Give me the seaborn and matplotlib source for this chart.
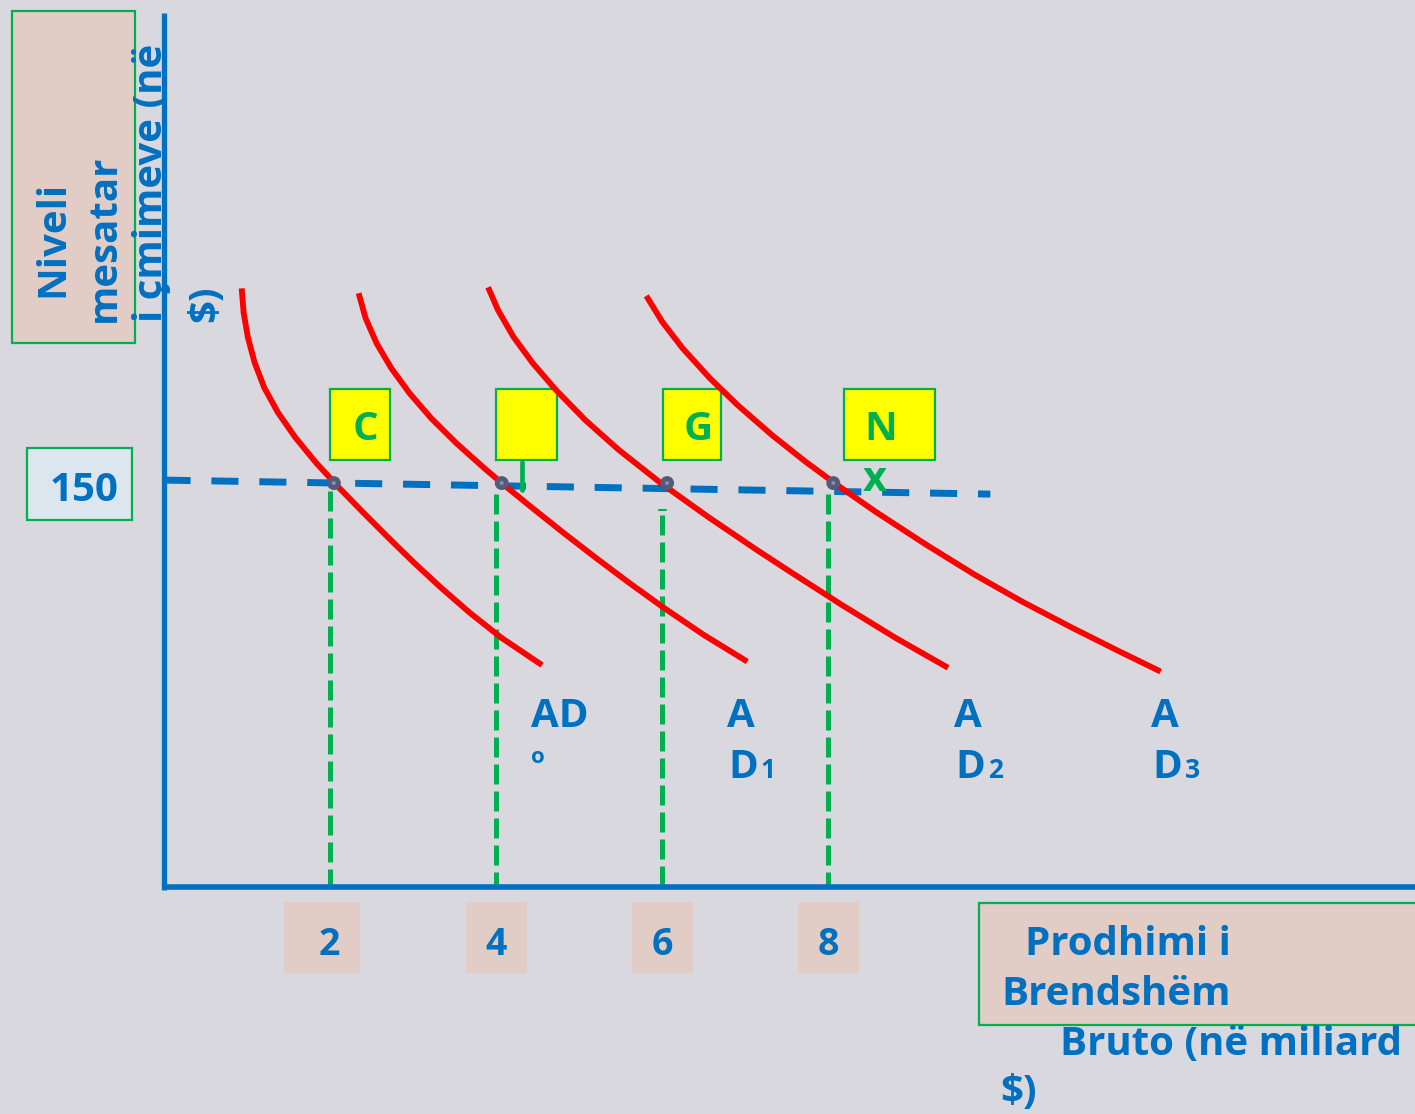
import matplotlib
matplotlib.use("Agg")
import matplotlib.pyplot as plt
from matplotlib.patches import Rectangle
from matplotlib.transforms import blended_transform_factory
import seaborn as sns

# aggregate demand curves: real GDP ($ billion) vs. average price level
ad0_x = [0.941, 0.964, 1.016, 1.096, 1.211, 1.377, 1.587, 1.834, 2.111, 2.402,
         2.703, 3.012, 3.337, 3.683, 4.063, 4.555]
ad0_y = [222.3, 213.3, 204.0, 194.8, 185.5, 176.2, 166.9, 157.6, 148.3, 139.1,
         129.8, 120.5, 111.2, 101.9, 92.6, 82.4]
ad1_x = [2.348, 2.432, 2.564, 2.742, 2.962, 3.223, 3.524, 3.861, 4.074, 4.440,
         4.818, 5.208, 5.610, 6.024, 6.502, 7.025]
ad1_y = [220.5, 211.2, 201.9, 192.6, 183.3, 174.0, 164.8, 155.5, 149.9, 140.7,
         131.4, 122.1, 112.8, 103.6, 93.6, 83.7]
ad2_x = [3.906, 4.024, 4.211, 4.444, 4.721, 5.075, 5.479, 5.988, 6.550, 7.143,
         7.540, 8.165, 8.815, 9.441]
ad2_y = [222.7, 214.3, 204.3, 194.5, 184.6, 173.4, 162.3, 149.9, 137.5, 125.1,
         117.1, 104.7, 92.4, 81.4]
ad3_x = [5.810, 6.001, 6.248, 6.576, 6.907, 7.323, 7.727, 8.106, 8.566, 9.183,
         9.765, 10.337, 10.945, 11.508, 11.999]
ad3_y = [219.5, 209.9, 200.0, 188.9, 179.0, 167.8, 157.9, 149.3, 139.4, 127.0,
         115.9, 105.9, 96.1, 87.4, 80.0]

# equilibrium points at price level 150
eq_x = [2.05, 4.07, 6.06, 8.06]
eq_y = [150, 150, 150, 150]
price_x = [0.0, 9.95]
price_y = [151.1, 145.9]

tick_x = [2, 4, 6, 8]
tick_labels = ["2", "4", "6", "8"]
drop_top = [147, 146, 138, 146]
box_letters = ["C", "", "G", "N"]
ad_names = ["AD", "A", "A", "A"]
ad_subs = ["o", "1", "2", "3"]

BG = "#d9d8df"
BLUE = "#0070c0"
GREEN = "#00b050"
RED = "#ff0000"
PINK = "#e2cdc6"
YELLOW = "#ffff00"

W, H = 1415, 1114
X0, XS = 163.5, 83.1   # pixel of x=0, pixels per unit
Y0, YS = 887.0, 2.693  # pixel of y=0, pixels per unit

sns.set_style("white", {"axes.facecolor": BG, "figure.facecolor": BG})
plt.rcParams["font.family"] = ["Open Sans", "DejaVu Sans"]

fig = plt.figure(figsize=(W / 100, H / 100), dpi=100)
ax = fig.add_axes([0, 0, 1, 1])
ax.axis("off")
ax.set_autoscale_on(False)
ax.set_xlim(-X0 / XS, (W - X0) / XS)
ax.set_ylim((Y0 - H) / YS, Y0 / YS)

ftr = fig.transFigure
bx = blended_transform_factory(ax.transData, ftr)


def fx(px):
    return px / W


def fy(py):
    return 1 - py / H


def box(x0, y0, x1, y1, fc, ec="none", z=1):
    ax.add_patch(Rectangle((fx(x0), fy(y1)), (x1 - x0) / W, (y1 - y0) / H,
                           transform=ftr, fc=fc, ec=ec, lw=1.6, zorder=z, clip_on=False))


def txt(px, py, s, size=29, color=BLUE, **kw):
    kw.setdefault("ha", "left")
    kw.setdefault("va", "baseline")
    ax.text(fx(px), fy(py), s, transform=ftr, fontsize=size, color=color,
            fontweight="bold", zorder=6, clip_on=False, **kw)


# label boxes
box(12, 11, 135, 343, PINK, GREEN)
box(27, 448, 132, 520, "#dce6ee", GREEN)
box(979, 903, 1430, 1025, PINK, GREEN)
for (a, b) in [(284, 360), (466, 527), (632, 693), (798, 859)]:
    box(a, 902, b, 973, PINK)

# yellow boxes
for (a, b) in [(329.5, 390), (495.5, 556.5), (662.5, 721), (843.5, 934.5)]:
    box(a, 389, b, 460, YELLOW, GREEN, z=2)
for lx, s in zip([365, 525, 698, 881], box_letters):
    txt(lx, 440, s, size=29, color=GREEN, ha="center")

# axes lines
ax.plot([0, 0], [-1.2, 324.5], color=BLUE, lw=3.8, solid_capstyle="butt", zorder=3)
ax.plot([-0.02, 16], [0, 0], color=BLUE, lw=4.0, solid_capstyle="butt", zorder=3)

# green drop lines
for t, top in zip(tick_x, drop_top):
    ax.plot([t, t], [top, 0], color=GREEN, lw=3.6,
            linestyle=(0, (4.0, 1.4)), dash_capstyle="butt", zorder=2)
ax.plot([fx(522), fx(522)], [fy(462), fy(490)], transform=ftr, color=GREEN, lw=3.4, zorder=4)
ax.plot([fx(659), fx(666)], [fy(510), fy(510)], transform=ftr, color=GREEN, lw=1.5, zorder=4)

# price level line
sns.lineplot(x=price_x, y=price_y, ax=ax, color=BLUE, lw=5,
             linestyle=(0, (3.9, 3.0)), zorder=3)

# AD curves
for xs, ys in [(ad0_x, ad0_y), (ad1_x, ad1_y), (ad2_x, ad2_y), (ad3_x, ad3_y)]:
    sns.lineplot(x=xs, y=ys, ax=ax, color=RED, lw=4.2, zorder=4,
                 solid_joinstyle="round", solid_capstyle="butt")

sns.scatterplot(x=eq_x, y=eq_y, ax=ax, s=100, color="#555a78", edgecolor="none", zorder=5)
sns.scatterplot(x=eq_x, y=eq_y, ax=ax, s=8, color="#8a8fb0", edgecolor="none", zorder=6)

# tick labels
for t, s in zip(tick_x, tick_labels):
    ax.text(t, fy(955), s, transform=bx, fontsize=27, color=BLUE,
            fontweight="bold", ha="center", va="baseline", zorder=6)
txt(84, 501, "150", ha="center")
txt(875, 491, "x", size=30, color=GREEN, ha="center")

# AD labels
txt(531, 727, ad_names[0])
txt(531, 763, ad_subs[0], size=16)
for ax_px, sub_px, name, sub in zip([727, 954, 1151], [760, 988, 1185], ad_names[1:], ad_subs[1:]):
    txt(ax_px, 727, name)
    txt(ax_px + 1, 778, "D")
    txt(sub_px, 778, sub, size=19)

# y label (rotated)
txt(63, 297, "Niveli", rotation=90, rotation_mode="anchor")
txt(115, 322, "mesatar", rotation=90, rotation_mode="anchor")
txt(162, 322, "i çmimeve (në", rotation=90, rotation_mode="anchor")
txt(216, 322, "$)", rotation=90, rotation_mode="anchor")

# x label
txt(1025, 955, "Prodhimi i")
txt(1001, 1005, "Brendshëm")
txt(1060, 1055, "Bruto (në miliard")
txt(1000, 1103, "$)")

fig.savefig("out.png", dpi=100, facecolor=BG)
